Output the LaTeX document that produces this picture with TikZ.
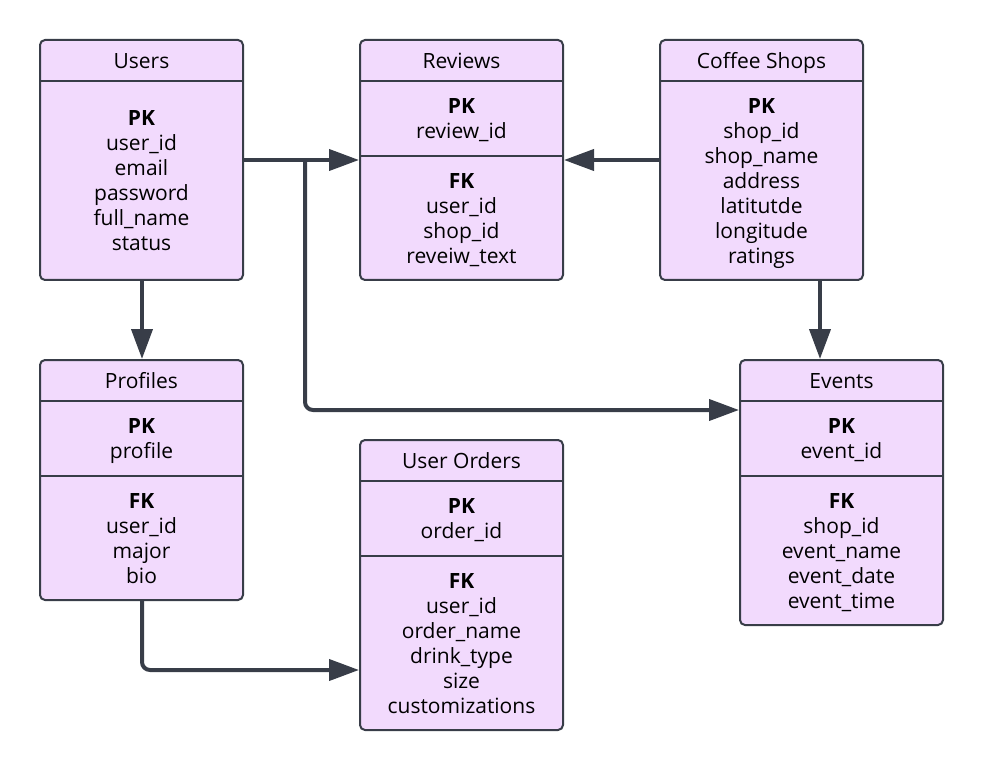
\documentclass[tikz,border=0pt]{standalone}
\usepackage{fontspec}
\setmainfont{Open Sans}
\usetikzlibrary{arrows.meta,calc}
\definecolor{boxfill}{RGB}{242,218,253}
\definecolor{ink}{RGB}{56,61,72}
\tikzset{
  entity/.style={draw=ink, fill=boxfill, line width=2pt, rounded corners=5pt, inner sep=0pt},
  sep/.style={draw=ink, line width=2pt},
  ttl/.style={anchor=base, font=\fontsize{21}{25}\selectfont, text=black, inner sep=0pt},
  body/.style={anchor=base, font=\fontsize{21}{25}\selectfont, text=black, align=center, inner sep=0pt},
  conn/.style={draw=ink, line width=4pt, rounded corners=8pt, -{Triangle[length=30pt,width=21pt]}},
}
\newcommand{\kw}[1]{\textbf{#1}}
\begin{document}
\begin{tikzpicture}[x=1pt,y=-1pt]
\useasboundingbox (0,0) rectangle (983,770);
% Users
\node[entity, minimum width=203pt, minimum height=240pt] (users) at (141.5,160) {};
\draw[sep] (40,81) -- (243,81);
\node[ttl] (usersT) at (141.5,68.5) {Users};
\node[body] (usersB) at (141.5,250.5) {\kw{PK}\\user\_id\\email\\password\\full\_name\\status};
% Reviews
\node[entity, minimum width=203pt, minimum height=240pt] (reviews) at (461.5,160) {};
\draw[sep] (360,81) -- (563,81);
\draw[sep] (360,156) -- (563,156);
\node[ttl] (reviewsT) at (461.5,68.5) {Reviews};
\node[body] (reviewsB1) at (461.5,138.5) {\kw{PK}\\review\_id};
\node[body] (reviewsB2) at (461.5,263.5) {\kw{FK}\\user\_id\\shop\_id\\reveiw\_text};
% Coffee Shops
\node[entity, minimum width=203pt, minimum height=240pt] (shops) at (761.5,160) {};
\draw[sep] (660,81) -- (863,81);
\node[ttl] (shopsT) at (761.5,68.5) {Coffee Shops};
\node[body] (shopsB) at (761.5,263.5) {\kw{PK}\\shop\_id\\shop\_name\\address\\latitutde\\longitude\\ratings};
% Profiles
\node[entity, minimum width=203pt, minimum height=240pt] (profiles) at (141.5,480) {};
\draw[sep] (40,401) -- (243,401);
\draw[sep] (40,476) -- (243,476);
\node[ttl] (profilesT) at (141.5,388.5) {Profiles};
\node[body] (profilesB1) at (141.5,458.5) {\kw{PK}\\profile};
\node[body] (profilesB2) at (141.5,583.5) {\kw{FK}\\user\_id\\major\\bio};
% User Orders
\node[entity, minimum width=203pt, minimum height=290pt] (orders) at (461.5,585) {};
\draw[sep] (360,481) -- (563,481);
\draw[sep] (360,556) -- (563,556);
\node[ttl] (ordersT) at (461.5,468.5) {User Orders};
\node[body] (ordersB1) at (461.5,538.5) {\kw{PK}\\order\_id};
\node[body] (ordersB2) at (461.5,713.5) {\kw{FK}\\user\_id\\order\_name\\drink\_type\\size\\customizations};
% Events
\node[entity, minimum width=203pt, minimum height=265pt] (events) at (841.5,492.5) {};
\draw[sep] (740,401) -- (943,401);
\draw[sep] (740,476) -- (943,476);
\node[ttl] (eventsT) at (841.5,388.5) {Events};
\node[body] (eventsB1) at (841.5,458.5) {\kw{PK}\\event\_id};
\node[body] (eventsB2) at (841.5,608.5) {\kw{FK}\\shop\_id\\event\_name\\event\_date\\event\_time};
% connectors
\coordinate (j) at (305,160);
\coordinate (jb) at (305,410);
\coordinate (pb) at (142,670);
\draw[conn] (users.east) -- (reviews.west);
\draw[conn] (j) -- (jb) -- (jb -| events.west);
\draw[conn] (shops.west) -- (reviews.east);
\draw[conn] (shops.south -| 820,0) -- (events.north -| 820,0);
\draw[conn] (users.south -| 142,0) -- (profiles.north -| 142,0);
\draw[conn] (profiles.south -| pb) -- (pb) -- (pb -| orders.west);
\end{tikzpicture}
\end{document}
